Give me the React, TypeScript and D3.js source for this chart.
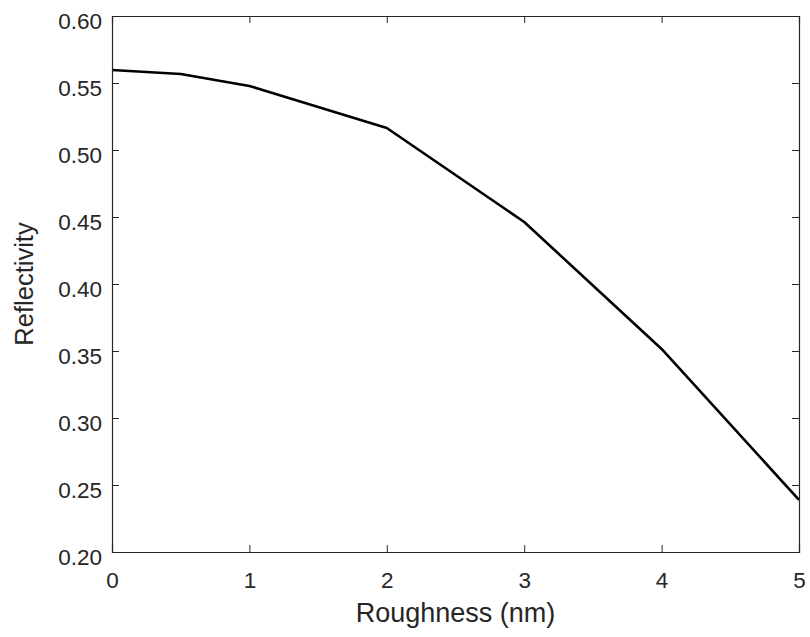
import React, { useEffect, useRef } from 'react';
import * as d3 from 'd3';

// Reflectivity vs roughness
const roughness = [0, 0.5, 1, 2, 3, 4, 5];
const reflectivity = [0.5597, 0.5567, 0.5478, 0.5164, 0.4463, 0.3515, 0.2389];
const xTicks = [0, 1, 2, 3, 4, 5];
const yTicks = [0.2, 0.25, 0.3, 0.35, 0.4, 0.45, 0.5, 0.55, 0.6];

const App = () => {
  const ref = useRef<SVGSVGElement>(null);

  useEffect(() => {
    const width = 810;
    const height = 637;
    const margin = { top: 16, right: 11, bottom: 85, left: 112 };
    const axisColor = '#262626';
    const font = 'Liberation Sans, Arial, Helvetica, sans-serif';

    const svg = d3.select(ref.current);
    svg.selectAll('*').remove();

    const x = d3.scaleLinear().domain([0, 5]).range([margin.left, width - margin.right]);
    const y = d3.scaleLinear().domain([0.2, 0.6]).range([height - margin.bottom, margin.top]);

    const g = svg.append('g');

    // Line
    const line = d3
      .line<number>()
      .x((d, i) => x(roughness[i]))
      .y(d => y(d));

    g.append('path')
      .datum(reflectivity)
      .attr('fill', 'none')
      .attr('stroke', '#000')
      .attr('stroke-width', 2.6)
      .attr('stroke-linejoin', 'round')
      .attr('d', line);

    // Axes (box with inward ticks on all sides)
    const tickSize = -7;
    const bottom = d3.axisBottom(x).tickValues(xTicks).tickSize(tickSize).tickFormat(d3.format('d'));
    const top = d3.axisTop(x).tickValues(xTicks).tickSize(tickSize).tickFormat(() => '');
    const left = d3.axisLeft(y).tickValues(yTicks).tickSize(tickSize).tickFormat(d3.format('.2f'));
    const right = d3.axisRight(y).tickValues(yTicks).tickSize(tickSize).tickFormat(() => '');

    const axes = [
      g.append('g').attr('transform', `translate(0,${height - margin.bottom})`).call(bottom),
      g.append('g').attr('transform', `translate(0,${margin.top})`).call(top),
      g.append('g').attr('transform', `translate(${margin.left},0)`).call(left),
      g.append('g').attr('transform', `translate(${width - margin.right},0)`).call(right),
    ];

    axes.forEach(a => {
      a.select('.domain').attr('stroke', axisColor).attr('stroke-width', 1.2);
      a.selectAll('.tick line').attr('stroke', axisColor).attr('stroke-width', 1);
      a.selectAll('.tick text')
        .attr('fill', axisColor)
        .attr('font-family', font)
        .attr('font-size', 22.5);
    });

    // label spacing
    axes[0].selectAll('.tick text').attr('dy', 0).attr('y', 36);
    axes[2].selectAll('.tick text').attr('x', -10).attr('dy', 0).attr('y', 12);

    // Axis titles
    svg.append('text')
      .attr('x', (margin.left + width - margin.right) / 2)
      .attr('y', 622)
      .attr('text-anchor', 'middle')
      .attr('fill', axisColor)
      .attr('font-family', font)
      .attr('font-size', 27)
      .text('Roughness (nm)');

    svg.append('text')
      .attr('transform', `translate(33,${(margin.top + height - margin.bottom) / 2}) rotate(-90)`)
      .attr('text-anchor', 'middle')
      .attr('fill', axisColor)
      .attr('font-family', font)
      .attr('font-size', 25.5)
      .text('Reflectivity');
  }, []);

  return (
    <svg
      ref={ref}
      width={810}
      height={637}
      style={{ position: 'absolute', left: 0, top: 0, background: '#fff' }}
    />
  );
};

export default App;
